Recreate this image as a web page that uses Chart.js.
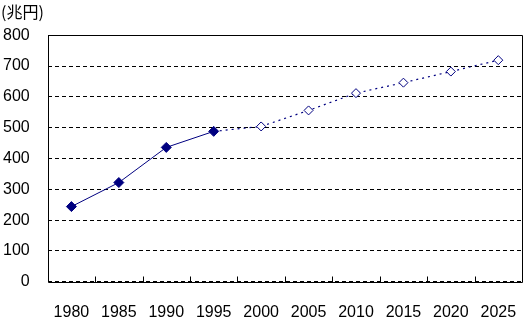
<!DOCTYPE html>
<html>
<head>
<meta charset="utf-8">
<script src="https://cdn.jsdelivr.net/npm/chart.js@4"></script>
<style>
html,body{margin:0;padding:0;background:#fff;}
#wrap{width:531px;height:332px;position:relative;}
</style>
</head>
<body>
<div id="wrap"><canvas id="c" width="531" height="332"></canvas></div>
<script>
const categories = ['1980','1985','1990','1995','2000','2005','2010','2015','2020','2025'];
const actualValues = [244, 322, 436, 488, null, null, null, null, null, null];
const projectedValues = [null, null, null, 488, 504, 556, 612, 646, 682, 719];
const yTicks = [0, 100, 200, 300, 400, 500, 600, 700, 800];
const unitLabel = '(兆円)';

const navy = '#000080';
const tickFont = {family: '"Liberation Sans", Arial, sans-serif', size: 16};

const framePlugin = {
  id: 'frame',
  afterDraw(chart) {
    const ctx = chart.ctx;
    const a = chart.chartArea;
    const xs = chart.scales.x;
    const L = Math.round(a.left) + 0.5, T = Math.round(a.top) + 0.5;
    const R = Math.round(a.right) + 0.5, B = Math.round(a.bottom) + 0.5;
    ctx.save();
    ctx.strokeStyle = '#000000';
    ctx.lineWidth = 1;
    ctx.setLineDash([]);
    for (let i = 1; i < categories.length; i++) {
      const px = Math.round((xs.getPixelForValue(i - 1) + xs.getPixelForValue(i)) / 2) + 0.5;
      ctx.beginPath();
      ctx.moveTo(px, B);
      ctx.lineTo(px, B - 6);
      ctx.stroke();
    }
    ctx.beginPath();
    ctx.moveTo(L, T); ctx.lineTo(R, T); ctx.lineTo(R, B); ctx.lineTo(L, B); ctx.closePath();
    ctx.stroke();
    ctx.restore();
  }
};

new Chart(document.getElementById('c'), {
  type: 'line',
  data: {
    labels: categories,
    datasets: [
      {
        data: actualValues,
        borderColor: navy,
        backgroundColor: navy,
        borderWidth: 1,
        pointStyle: 'rectRot',
        pointRadius: 5,
        pointBackgroundColor: navy,
        pointBorderColor: navy,
        pointBorderWidth: 1,
        tension: 0,
        spanGaps: false
      },
      {
        data: projectedValues,
        borderColor: navy,
        backgroundColor: '#fff',
        borderWidth: 1.2,
        borderDash: [2, 4],
        pointStyle: 'rectRot',
        pointRadius: projectedValues.map((v, i) => actualValues[i] != null ? 0 : 4.5),
        pointBackgroundColor: '#fff',
        pointBorderColor: navy,
        pointBorderWidth: 1,
        tension: 0
      }
    ]
  },
  plugins: [framePlugin],
  options: {
    responsive: false,
    animation: false,
    events: [],
    layout: {padding: {left: 1, right: 9, top: 0, bottom: 8}},
    plugins: {
      legend: {display: false},
      tooltip: {enabled: false},
      title: {
        display: true,
        text: unitLabel,
        align: 'start',
        color: '#000',
        font: {family: '"Noto Sans CJK JP", sans-serif', size: 16, weight: 'normal'},
        padding: {top: 2, bottom: 14}
      }
    },
    scales: {
      x: {
        type: 'category',
        offset: true,
        grid: {display: true, drawOnChartArea: false, drawTicks: true, tickLength: 19, tickColor: 'rgba(0,0,0,0)', offset: true},
        border: {display: false},
        ticks: {color: '#000', font: tickFont, padding: 2, maxRotation: 0, autoSkip: false}
      },
      y: {
        min: 0,
        max: 800,
        afterBuildTicks(scale) { scale.ticks = yTicks.map(v => ({value: v})); },
        grid: {color: '#000', lineWidth: 1, drawTicks: true, tickLength: 16, tickColor: 'rgba(0,0,0,0)'},
        border: {display: false, dash: [4, 3]},
        ticks: {color: '#000', font: tickFont, padding: 2}
      }
    }
  }
});
</script>
</body>
</html>
